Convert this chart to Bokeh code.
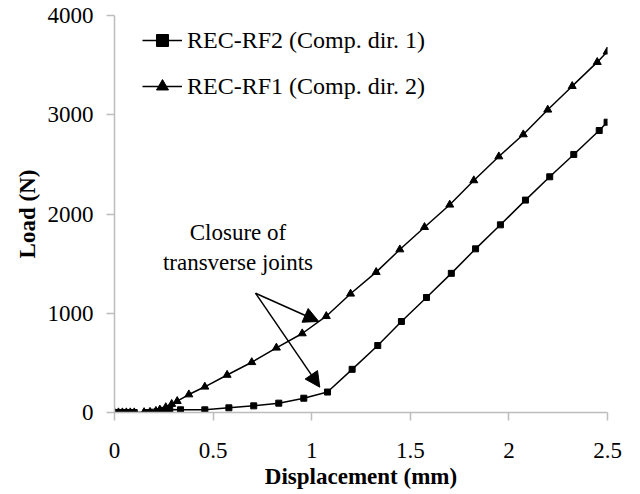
from bokeh.plotting import figure
from bokeh.models import (Legend, LegendItem, FixedTicker, Arrow, NormalHead, ColumnDataSource, Range1d)
from bokeh.core.properties import value
from bokeh.embed import file_html
from bokeh.resources import INLINE

# ---- data ----
rf1_disp = [0.00, 0.02, 0.04, 0.06, 0.08, 0.10, 0.15, 0.18, 0.21, 0.23, 0.26, 0.29,
            0.318, 0.377, 0.458, 0.571, 0.696, 0.821, 0.952, 1.074, 1.197, 1.327,
            1.447, 1.572, 1.700, 1.822, 1.949, 2.073, 2.197, 2.321, 2.448, 2.498]
rf1_load = [0, 0, 0, 0, 0, 0, 2, 5, 15, 28, 52, 85,
            114, 181, 259, 378, 506, 652, 796, 970, 1196, 1414,
            1642, 1867, 2093, 2338, 2579, 2801, 3050, 3288, 3530, 3635]

rf2_disp = [0.00, 0.02, 0.04, 0.06, 0.08, 0.10, 0.16, 0.19, 0.22, 0.25, 0.28,
            0.335, 0.458, 0.580, 0.706, 0.833, 0.960, 1.080, 1.205, 1.335, 1.455,
            1.582, 1.708, 1.831, 1.957, 2.084, 2.207, 2.329, 2.458, 2.498]
rf2_load = [0, 0, 0, 0, 0, 0, 0, 3, 10, 22, 30,
            27, 27, 47, 67, 94, 144, 206, 435, 675, 917,
            1159, 1402, 1649, 1891, 2140, 2375, 2600, 2841, 2925]

x_ticks = [0, 0.5, 1, 1.5, 2, 2.5]
x_tick_labels = ["0", "0.5", "1", "1.5", "2", "2.5"]
y_ticks = [0, 1000, 2000, 3000, 4000]
y_tick_labels = ["0", "1000", "2000", "3000", "4000"]

legend_labels = ["REC-RF2 (Comp. dir. 1)", "REC-RF1 (Comp. dir. 2)"]
annot_lines = ["Closure of", "transverse joints"]
annot_x = [0.626, 0.626]
annot_y = [1814, 1511]
arrow_start = (0.715, 1202)
arrow_ends = [(1.036, 917), (1.041, 255)]

FONT = "Liberation Serif"
GREY = "#bdbdbd"

p = figure(width=632, height=492, output_backend="svg", toolbar_location=None,
           x_range=Range1d(0, 2.5), y_range=Range1d(0, 4000),
           min_border_left=114, min_border_right=25, min_border_top=15, min_border_bottom=80)
p.outline_line_color = None
p.xgrid.grid_line_color = None
p.ygrid.grid_line_color = None

for ax in (p.xaxis[0], p.yaxis[0]):
    ax.axis_line_color = GREY
    ax.axis_line_width = 1.5
    ax.major_tick_line_color = GREY
    ax.major_tick_line_width = 1.5
    ax.major_tick_out = 8
    ax.major_tick_in = 0
    ax.minor_tick_line_color = None
    ax.major_label_text_font = FONT
    ax.major_label_text_font_size = "23px"
    ax.major_label_text_color = "black"
    ax.axis_label_text_font = FONT
    ax.axis_label_text_font_size = "23px"
    ax.axis_label_text_font_style = "bold"
    ax.axis_label_text_color = "black"

p.xaxis.ticker = FixedTicker(ticks=x_ticks)
p.yaxis.ticker = FixedTicker(ticks=y_ticks)
p.xaxis.major_label_overrides = dict(zip(x_ticks, x_tick_labels))
p.yaxis.major_label_overrides = dict(zip(y_ticks, y_tick_labels))
p.xaxis.axis_label = "Displacement (mm)"
p.yaxis.axis_label = "Load (N)"
p.xaxis.major_label_standoff = 22
p.yaxis.major_label_standoff = 13
p.xaxis.axis_label_standoff = 3
p.yaxis.axis_label_standoff = 5

l2 = p.line(rf2_disp, rf2_load, line_color="black", line_width=1.5)
m2 = p.scatter(rf2_disp, rf2_load, marker="square", size=6, fill_color="black", line_color="black")
l1 = p.line(rf1_disp, rf1_load, line_color="black", line_width=1.5)
m1 = p.scatter(rf1_disp, rf1_load, marker="triangle", size=8, fill_color="black", line_color="black")

legend = Legend(items=[LegendItem(label=legend_labels[0], renderers=[l2, m2]),
                       LegendItem(label=legend_labels[1], renderers=[l1, m1])],
                location=(28, 311), margin=0, padding=0, spacing=16,
                glyph_width=40, glyph_height=30, label_height=30, label_standoff=5,
                label_text_font=FONT, label_text_font_size="24px", label_text_color="black",
                border_line_color=None, background_fill_alpha=0)
p.add_layout(legend)

src = ColumnDataSource(dict(x=annot_x, y=annot_y, t=annot_lines))
p.text(x="x", y="y", text="t", source=src, text_font=value(FONT), text_font_size="23px",
       text_align="center", text_baseline="middle", text_color="black")

for xe, ye in arrow_ends:
    p.add_layout(Arrow(x_start=arrow_start[0], y_start=arrow_start[1], x_end=xe, y_end=ye,
                       line_color="black", line_width=1.5,
                       end=NormalHead(size=15, fill_color="black", line_color="black")))

open("out.html", "w").write(file_html(p, INLINE))
